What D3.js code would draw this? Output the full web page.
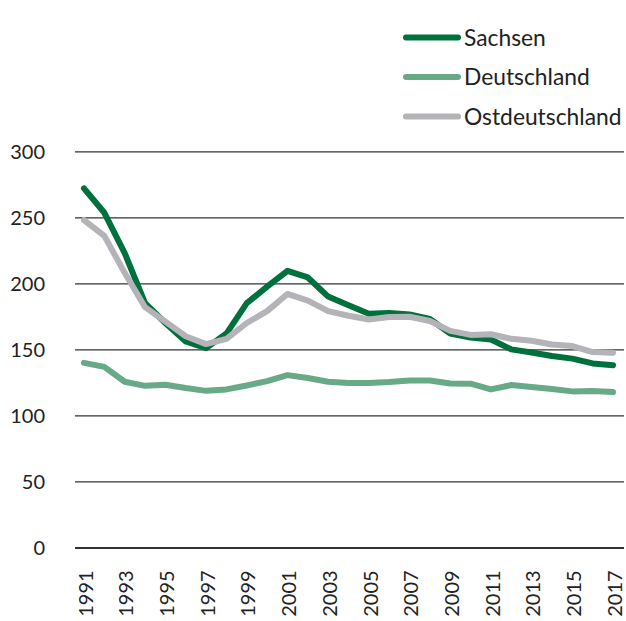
<!DOCTYPE html>
<html><head><meta charset="utf-8">
<script src="https://cdn.jsdelivr.net/npm/d3@7"></script>
<style>
html,body{margin:0;padding:0;background:#fff;}
svg{display:block;}
text{font-family:Lato,"Noto Sans",sans-serif;fill:#222;}
</style></head>
<body>
<svg id="chart" width="626" height="621"></svg>
<script>
const years = d3.range(1991, 2018);
const sachsen = [272,253.5,223,185,170,156,151,162,185,197.5,209.5,204.5,190,183.5,177,177.5,176.5,173,162,159,157.5,150,147.7,145,143,139.4,138];
const deutschland = [139.8,136.8,125.5,122.4,123.2,120.7,118.6,119.7,122.7,126,130.5,128.3,125.5,124.5,124.5,125.3,126.5,126.5,124.2,124,119.7,123,121.5,120,118.2,118.4,117.7];
const ostdeutschland = [248,236,208,182,171,160,154,158,170,179,192,187,179,175.5,172.7,174.5,174.7,171.5,164,161,161.5,158,156.5,153.7,152.5,148,147.5];
const seriesNames = ["Sachsen","Deutschland","Ostdeutschland"];
const seriesColors = ["#00703c","#68a987","#b3b3b8"];
const yTicks = [0,50,100,150,200,250,300];
const xTicks = d3.range(1991, 2018, 2);

const svg = d3.select("#chart");
const x = d3.scaleLinear().domain([1991, 2017]).range([84, 613]);
const y = d3.scaleLinear().domain([0, 300]).range([547.4, 151.4]);

// y axis + gridlines
const yAxis = svg.append("g").attr("transform","translate(75,0)")
  .call(d3.axisLeft(y).tickValues(yTicks).tickSize(-549).tickPadding(30));
yAxis.select(".domain").remove();
yAxis.selectAll(".tick line").attr("stroke","#333").attr("stroke-width",d=>d===0?2:1.2);
yAxis.selectAll(".tick text").attr("font-size","20px").attr("fill","#222").attr("dy","0.36em")
  .style("font-family","Lato, 'Noto Sans', sans-serif");

// x axis labels
const xAxis = svg.append("g").attr("transform","translate(0,"+y(0)+")")
  .call(d3.axisBottom(x).tickValues(xTicks).tickSize(0).tickFormat(d3.format("d")));
xAxis.select(".domain").remove();
xAxis.selectAll(".tick text")
  .attr("transform","rotate(-90)")
  .attr("text-anchor","end")
  .attr("x",-23).attr("y",1).attr("dy","0.36em")
  .attr("font-size","20px").attr("fill","#222")
  .style("font-family","Lato, 'Noto Sans', sans-serif");

// lines
const allSeries = [sachsen, deutschland, ostdeutschland];
const line = d3.line().x((d,i)=>x(years[i])).y(d=>y(d));
allSeries.forEach((s,i)=>{
  svg.append("path").datum(s).attr("d",line)
    .attr("fill","none").attr("stroke",seriesColors[i]).attr("stroke-width",6)
    .attr("stroke-linejoin","round").attr("stroke-linecap","round");
});

// legend
const legend = svg.append("g");
seriesNames.forEach((n,i)=>{
  const ly = 37.5 + i*39.5;
  legend.append("line").attr("x1",406).attr("x2",458).attr("y1",ly).attr("y2",ly)
    .attr("stroke",seriesColors[i]).attr("stroke-width",6).attr("stroke-linecap","round");
  legend.append("text").attr("x",464).attr("y",ly).attr("dy","0.36em")
    .attr("font-size","22.8px").text(n);
});
</script>
</body></html>
